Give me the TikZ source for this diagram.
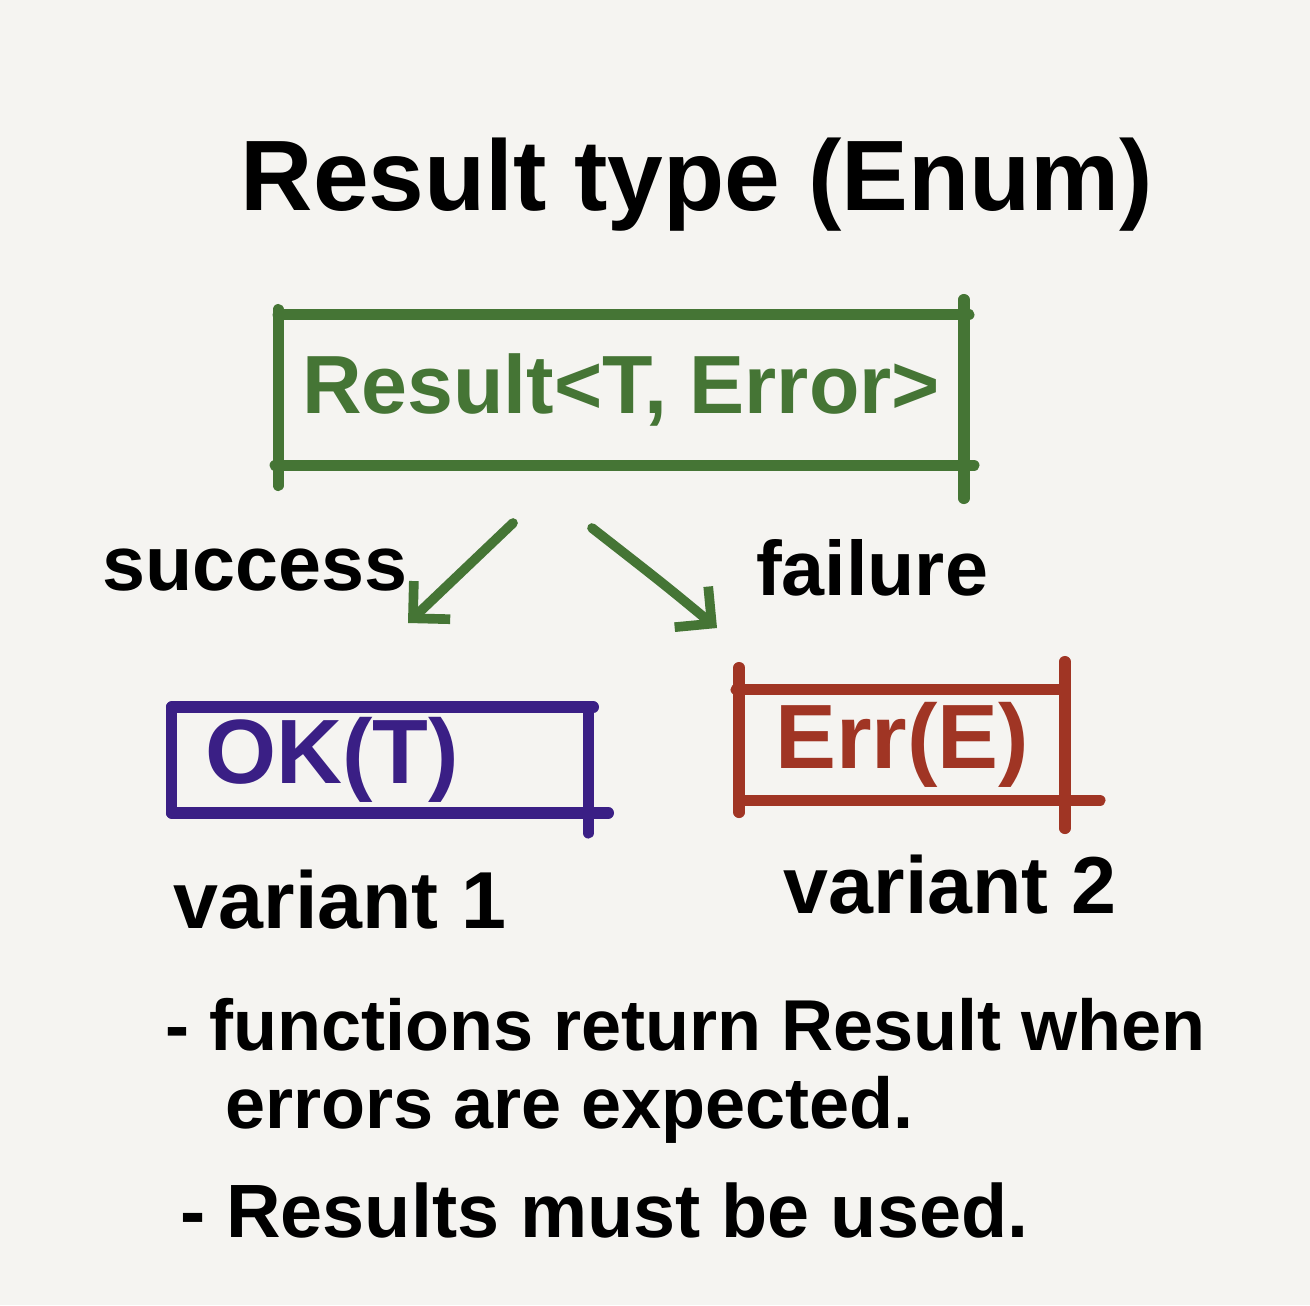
\documentclass[tikz,border=0pt]{standalone}
\usepackage{fontspec}
\setmainfont{Liberation Sans}
\usetikzlibrary{arrows.meta}
\usetikzlibrary{positioning}

\definecolor{paper}{HTML}{F5F4F1}
\definecolor{resgreen}{HTML}{457535}
\definecolor{okpurple}{HTML}{3A1F85}
\definecolor{errred}{HTML}{A03524}

\tikzset{
  marker/.style={line width=6.5pt, line cap=round},
  ink/.style={font=\fontsize{#1}{#1}\selectfont\bfseries, inner sep=0pt},
  boxnode/.style={inner sep=0pt},
  barb/.style={-{Straight Barb[length=15pt, width=30pt]}, line width=5.5pt, line cap=round, line join=round},
}

\begin{document}
\begin{tikzpicture}[x=0.02cm, y=-0.02cm]

\pgfmathsetmacro{\W}{1310}
\pgfmathsetmacro{\H}{1305}

% --- Page ---
\fill[paper] (0,0) rectangle (\W,\H);
\useasboundingbox (0,0) rectangle (\W,\H);

% --- Title ---
\node[ink=57] (title) at (697,185) {Result type (Enum)};

% --- Result box ---
\node[boxnode, ink=47, text=resgreen, minimum width=13.7cm, minimum height=3cm] (res) at (621,390) {Result<T, Error>};
\draw[marker, resgreen] (res.north west) -- ([shift={(5,0)}]res.north east);
\draw[marker, resgreen] ([shift={(0,-5)}]res.north west) -- ([shift={(0,20)}]res.south west);
\draw[marker, resgreen] ([shift={(0,-15)}]res.north east) -- ([shift={(0,33)}]res.south east);
\draw[marker, resgreen] ([shift={(-3,0)}]res.south west) -- ([shift={(10,0)}]res.south east);

% --- Arrows ---
\coordinate (sStart) at (513,523);
\coordinate (sEnd) at (408,623);
\coordinate (fStart) at (592,528);
\coordinate (fEnd) at (717,628);

\draw[barb, resgreen] (sStart) -- (sEnd);
\draw[barb, resgreen] (fStart) .. controls (665,585) .. (fEnd);

\node[ink=44] (success) at (255,570) {success};
\node[ink=44] (failure) at (872,568) {failure};

% --- Variant 1 ---
\node[boxnode, ink=52, text=okpurple, minimum width=8.32cm, minimum height=2.1cm,
      inner xsep=0.66cm, text width=7cm, align=left] (ok) at (380,760) {OK(T)};
\draw[marker, okpurple] (ok.north west) -- ([shift={(5,0)}]ok.north east);
\draw[marker, okpurple] (ok.north west) -- (ok.south west);
\draw[marker, okpurple] ([shift={(0,5)}]ok.north east) -- ([shift={(0,20)}]ok.south east);
\draw[marker, okpurple] (ok.south west) -- ([shift={(20,0)}]ok.south east);

% --- Variant 2 ---
\node[boxnode, ink=52, text=errred, minimum width=6.5cm, minimum height=2.2cm] (err) at (902,745) {Err(E)};
\draw[marker, errred] ([shift={(-3,0)}]err.north west) -- ([shift={(-5,0)}]err.north east);
\draw[marker, errred] ([shift={(0,-22)}]err.north west) -- ([shift={(0,12)}]err.south west);
\draw[marker, errred] ([shift={(0,-28)}]err.north east) -- ([shift={(0,28)}]err.south east);
\draw[marker, errred] (err.south west) -- ([shift={(35,0)}]err.south east);

\node[ink=46] (var1) at (340,900) {variant 1};
\node[ink=46] (var2) at (950,885) {variant 2};

% --- Notes ---
\node[ink=41, anchor=west] (note1) at (165,1025) {- functions return Result when};
\node[ink=41, anchor=west] (note2) at (225,1110) {errors are expected.};
\node[ink=43, anchor=west] (note3) at (180,1210) {- Results must be used.};

\end{tikzpicture}
\end{document}
